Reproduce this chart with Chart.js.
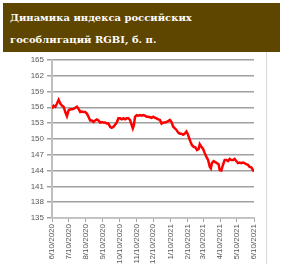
<!DOCTYPE html>
<html lang="ru">
<head>
<meta charset="UTF-8"/>
<title>RGBI</title>
<script src="https://cdn.jsdelivr.net/npm/chart.js"></script>
<style>
    html, body {
        margin: 0;
        padding: 0;
        background: #fff;
        width: 282px;
        height: 264px;
        overflow: hidden;
    }
    .title {
        position: absolute;
        left: 3px;
        top: 3px;
        width: 277px;
        height: 49px;
        background: #5e4500;
        color: #fff;
        font-family: 'DejaVu Serif', serif;
        font-weight: bold;
        font-size: 10px;
        line-height: 22px;
        padding: 4px 0 0 7px;
        box-sizing: border-box;
    }
    .frame {
        position: absolute;
        left: 266px;
        top: 52px;
        width: 1px;
        height: 212px;
        background: #d9d9d9;
    }
    .wrap {
        position: absolute;
        left: 0;
        top: 52px;
        width: 266px;
        height: 212px;
    }
</style>
</head>
<body>
<div class="title">Динамика индекса российских<br>гособлигаций RGBI, б. п.</div>
<div class="frame"></div>
<div class="wrap"><canvas id="c"></canvas></div>
<script>
    // days since 6/10/2020
    const days = [0, 3, 6, 9, 12, 15, 18, 21, 24, 27, 30, 33, 36, 39, 42, 45, 48, 51, 54, 57,
        60, 63, 66, 69, 72, 75, 78, 81, 84, 87, 90, 93, 96, 99, 102, 105, 108, 111, 114, 117,
        120, 123, 126, 129, 132, 135, 138, 141, 144, 146, 148, 150, 153, 156, 159, 162, 165, 168, 171, 174,
        177, 180, 183, 186, 189, 192, 195, 198, 201, 204, 207, 210, 213, 216, 219, 222, 225, 228, 231, 234,
        237, 240, 243, 245, 248, 250, 253, 256, 259, 262, 265, 267, 270, 273, 276, 279, 282, 285, 287, 289,
        292, 295, 298, 301, 303, 306, 309, 312, 315, 318, 321, 324, 327, 330, 333, 336, 339, 342, 345, 348,
        351, 354, 357, 360, 363, 365];
    const rgbi = [155.75, 156.3, 156.1, 156.7, 157.4, 156.7, 156.3, 156.1, 155.1, 154.3, 155.4, 155.6, 155.6, 155.7, 155.9, 156.1, 155.7, 155.1, 155.2, 155.1,
        155.1, 154.8, 154.2, 153.5, 153.5, 153.2, 153.5, 153.7, 153.5, 153.1, 153.2, 153.1, 153.1, 152.9, 152.9, 152.3, 152.1, 152.3, 152.7, 153.1,
        153.9, 153.9, 153.7, 153.9, 153.7, 153.9, 153.9, 153.6, 152.6, 152.0, 152.6, 154.2, 154.5, 154.4, 154.5, 154.4, 154.5, 154.4, 154.2, 154.2,
        154.1, 154.0, 154.2, 154.0, 153.9, 153.7, 153.6, 152.9, 153.1, 153.1, 153.2, 153.4, 153.6, 153.2, 152.3, 152.0, 151.7, 151.2, 151.0, 151.0,
        150.8, 151.0, 151.4, 151.0, 150.1, 149.5, 148.8, 148.5, 148.4, 147.9, 148.1, 149.0, 148.5, 148.1, 147.3, 146.6, 146.0, 144.7, 144.4, 145.4,
        145.8, 145.6, 145.4, 145.2, 144.1, 144.0, 145.1, 146.0, 146.0, 145.8, 146.2, 146.0, 146.0, 146.2, 145.8, 145.4, 145.5, 145.4, 145.5, 145.4,
        145.2, 145.1, 144.7, 144.6, 144.1, 143.8];

    const tickDays = [0, 30, 61, 92, 122, 153, 183, 214, 245, 273, 304, 334, 365];
    const tickLabels = ['6/10/2020', '7/10/2020', '8/10/2020', '9/10/2020', '10/10/2020', '11/10/2020',
        '12/10/2020', '1/10/2021', '2/10/2021', '3/10/2021', '4/10/2021', '5/10/2021', '6/10/2021'];

    const tickFont = {family: 'Liberation Sans', size: 8};

    new Chart(document.getElementById('c'), {
        type: 'line',
        data: {
            datasets: [{
                data: days.map((d, i) => ({x: d, y: rgbi[i]})),
                borderColor: '#ff0000',
                borderWidth: 2.5,
                pointRadius: 0,
                tension: 0
            }]
        },
        options: {
            responsive: true,
            maintainAspectRatio: false,
            animation: false,
            layout: {padding: {top: 4, right: 12, left: 0, bottom: 0}},
            plugins: {legend: {display: false}, tooltip: {enabled: false}},
            scales: {
                x: {
                    type: 'linear',
                    min: 0,
                    max: 365,
                    afterBuildTicks: s => { s.ticks = tickDays.map(v => ({value: v})); },
                    afterFit: s => { s.height = 46; },
                    grid: {drawOnChartArea: false, drawTicks: true, tickLength: 4, color: '#a6a6a6'},
                    border: {color: '#bfbfbf', width: 1.5},
                    ticks: {
                        autoSkip: false,
                        maxRotation: 90,
                        minRotation: 90,
                        padding: 2,
                        color: '#595959',
                        font: tickFont,
                        callback: v => tickLabels[tickDays.indexOf(v)]
                    }
                },
                y: {
                    min: 135,
                    max: 165,
                    afterFit: s => { s.width = 52; },
                    grid: {color: '#a0a0a0', lineWidth: 1.5, tickLength: 5},
                    border: {color: '#bfbfbf', width: 2},
                    ticks: {stepSize: 3, padding: 3, color: '#595959', font: tickFont}
                }
            }
        }
    });
</script>
</body>
</html>
